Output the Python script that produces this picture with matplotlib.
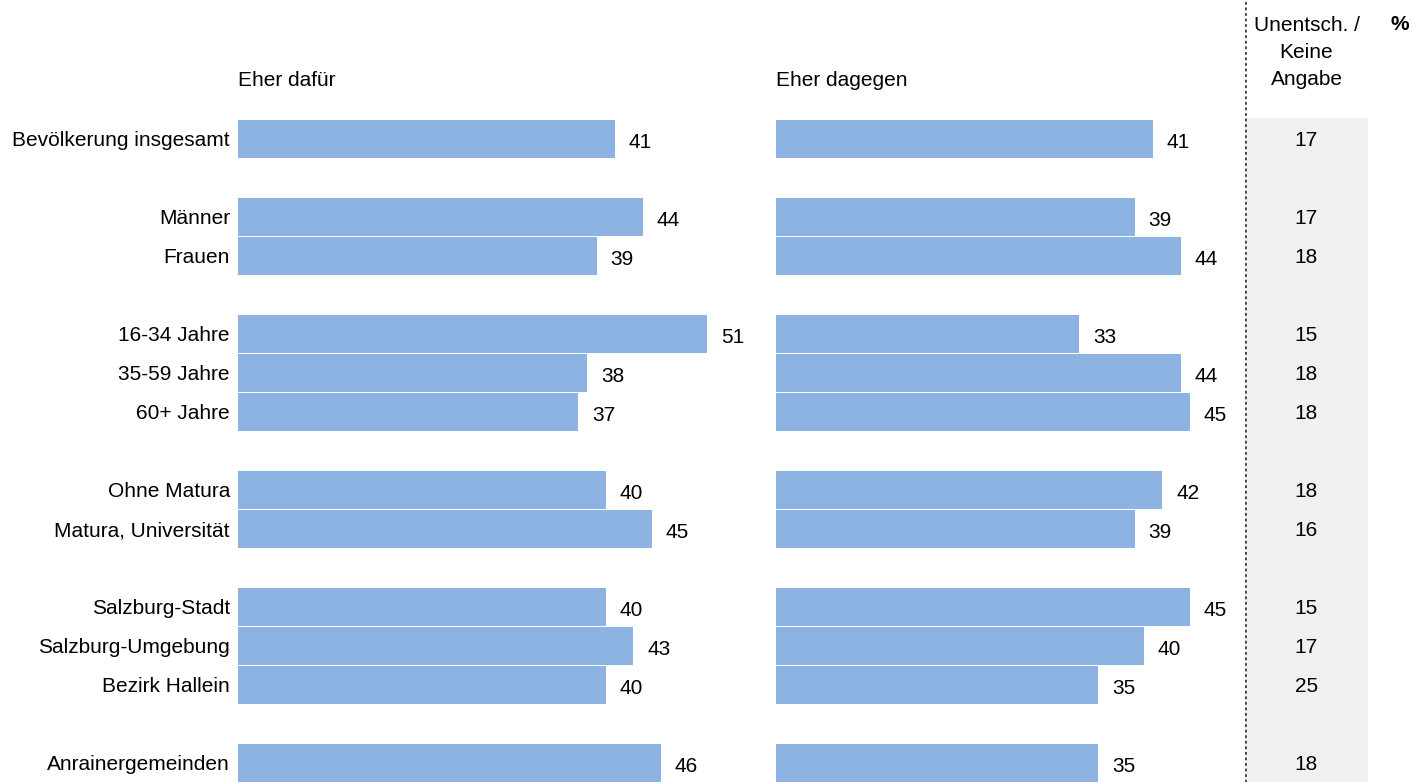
import matplotlib
matplotlib.use("Agg")
import matplotlib.pyplot as plt

categories = ["Bevölkerung insgesamt", "Männer", "Frauen", "16-34 Jahre", "35-59 Jahre",
              "60+ Jahre", "Ohne Matura", "Matura, Universität", "Salzburg-Stadt",
              "Salzburg-Umgebung", "Bezirk Hallein", "Anrainergemeinden"]
rows = [0, 2, 3, 5, 6, 7, 9, 10, 12, 13, 14, 16]
dafuer = [41, 44, 39, 51, 38, 37, 40, 45, 40, 43, 40, 46]
dagegen = [41, 39, 44, 33, 44, 45, 42, 39, 45, 40, 35, 35]
unentsch = [17, 17, 18, 15, 18, 18, 18, 16, 15, 17, 25, 18]

plt.rcParams['font.family'] = ['Liberation Sans', 'DejaVu Sans']
W, H = 1412, 782
fig = plt.figure(figsize=(W / 100, H / 100), dpi=100)

color = "#8DB3E2"
fs = 15
px = 9.195          # pixels per percentage point
row_px = 39.0
ylim = ((H - 139) / row_px, -139 / row_px)

ax1 = fig.add_axes([238 / W, 0, 55 * px / W, 1])
ax2 = fig.add_axes([776 / W, 0, 50 * px / W, 1])
ax3 = fig.add_axes([1245 / W, 0, 123 / W, 1])

for ax, vals in ((ax1, dafuer), (ax2, dagegen)):
    ax.barh(rows, vals, height=0.95, color=color, edgecolor="none")
    ax.set_xlim(0, ax.get_position().width * W / px)
    ax.set_ylim(*ylim)
    ax.axis("off")
    for r, v in zip(rows, vals):
        ax.text(v + 14 / px, r + 0.08, str(v), ha="left", va="center", fontsize=fs)

for r, c in zip(rows, categories):
    ax1.text(-8 / px, r + 0.05, c, ha="right", va="center", fontsize=fs)

ax1.text(0, -1.5, "Eher dafür", ha="left", va="center", fontsize=fs)
ax2.text(0, -1.5, "Eher dagegen", ha="left", va="center", fontsize=fs)

# third column: undecided, grey background with dotted separator
ax3.set_xlim(0, 1)
ax3.set_ylim(*ylim)
ax3.axis("off")
ax3.axvspan(0, 1, ymin=0, ymax=(H - 118) / H, color="#F0F0F0", zorder=0)
ax3.axvline(0, color="#444444", linestyle=(0, (1, 1)), linewidth=2)
for r, v in zip(rows, unentsch):
    ax3.text(0.5, r + 0.03, str(v), ha="center", va="center", fontsize=fs)
ax3.text(0.5, -2.22, "Unentsch. /\nKeine\nAngabe", ha="center", va="center",
         fontsize=fs, linespacing=1.55)
fig.text(1400 / W, 1 - 25 / H, "%", ha="center", va="center", fontsize=fs, fontweight="bold")

fig.savefig("out.png", dpi=100)
